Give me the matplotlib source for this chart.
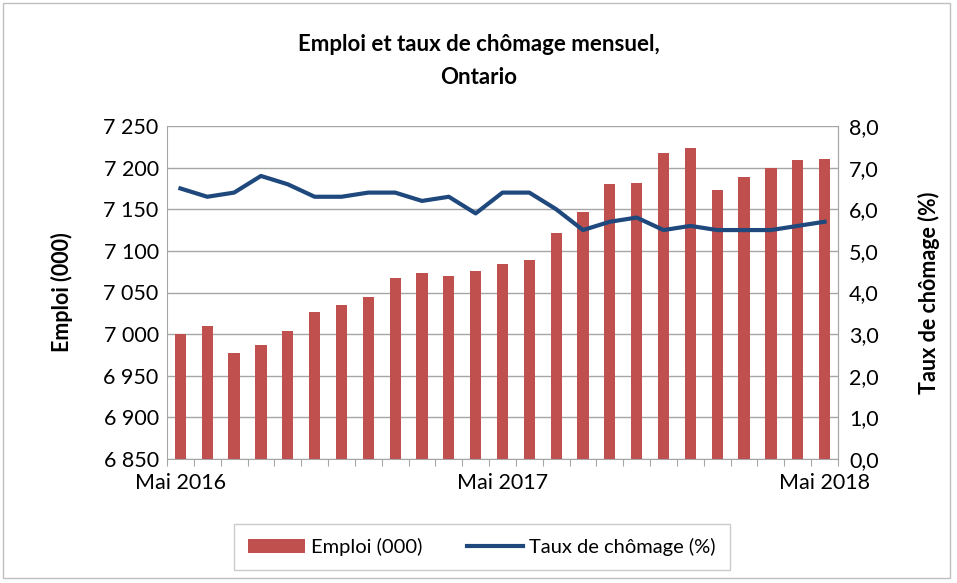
import numpy as np
import matplotlib.pyplot as plt
from matplotlib.patches import Rectangle
from matplotlib.ticker import FuncFormatter

plt.rcParams['font.family'] = ['Lato', 'DejaVu Sans']

months = ['Mai 2016', 'Juin 2016', 'Juil 2016', 'Août 2016', 'Sept 2016', 'Oct 2016',
          'Nov 2016', 'Déc 2016', 'Janv 2017', 'Févr 2017', 'Mars 2017', 'Avr 2017',
          'Mai 2017', 'Juin 2017', 'Juil 2017', 'Août 2017', 'Sept 2017', 'Oct 2017',
          'Nov 2017', 'Déc 2017', 'Janv 2018', 'Févr 2018', 'Mars 2018', 'Avr 2018',
          'Mai 2018']
emploi = [7000, 7010, 6977, 6987, 7004, 7027, 7035, 7044, 7068, 7074, 7070, 7076,
          7084, 7089, 7122, 7147, 7180, 7181, 7218, 7224, 7173, 7189, 7200, 7209, 7210]
chomage = [6.5, 6.3, 6.4, 6.8, 6.6, 6.3, 6.3, 6.4, 6.4, 6.2, 6.3, 5.9,
           6.4, 6.4, 6.0, 5.5, 5.7, 5.8, 5.5, 5.6, 5.5, 5.5, 5.5, 5.6, 5.7]
shown_labels = {0: 'Mai 2016', 12: 'Mai 2017', 24: 'Mai 2018'}

bar_color = '#C0504D'
line_color = '#1F497D'
grid_color = '#A6A6A6'

fig = plt.figure(figsize=(9.57, 5.83), dpi=100)
ax = fig.add_axes([167 / 957, 1 - 459 / 583, (838 - 167) / 957, (459 - 126) / 583])

x = np.arange(len(months))
ax.bar(x, emploi, width=0.42, color=bar_color, zorder=2, label='Emploi (000)')
ax.set_ylim(6850, 7250)
ax.set_yticks(np.arange(6850, 7251, 50))
ax.yaxis.set_major_formatter(FuncFormatter(lambda v, p: f'{int(v):,}'.replace(',', ' ')))
ax.set_xlim(-0.5, len(months) - 0.5)
ax.set_xticks(np.arange(-0.5, len(months), 1))
ax.set_xticklabels([])
ax.set_xticks(list(shown_labels.keys()), minor=True)
ax.set_xticklabels(list(shown_labels.values()), minor=True)
ax.tick_params(axis='x', which='major', length=5, color=grid_color)
ax.tick_params(axis='x', which='minor', length=0, labelsize=15.5, pad=10)
ax.tick_params(axis='y', length=0, labelsize=15.5, pad=6)
ax.grid(axis='y', color=grid_color, linewidth=1, zorder=0)
ax.set_axisbelow(True)
for s in ['left', 'bottom', 'right']:
    ax.spines[s].set_color(grid_color)
ax.spines['top'].set_visible(False)
ax.set_ylabel('Emploi (000)', fontsize=15.5, fontweight='bold', labelpad=22)

ax2 = ax.twinx()
ax2.plot(x, chomage, color=line_color, linewidth=3, label='Taux de chômage (%)', zorder=3)
ax2.set_ylim(0, 8)
ax2.set_yticks(np.arange(0, 8.1, 1))
ax2.yaxis.set_major_formatter(FuncFormatter(lambda v, p: f'{v:.1f}'.replace('.', ',')))
ax2.tick_params(axis='y', length=0, labelsize=15.5, pad=8)
for s in ['left', 'bottom', 'top']:
    ax2.spines[s].set_visible(False)
ax2.spines['right'].set_color(grid_color)
ax2.set_ylabel('Taux de chômage (%)', fontsize=15.5, fontweight='bold', labelpad=28)

fig.text(0.5, 1 - 61 / 583, 'Emploi et taux de chômage mensuel,\nOntario',
         ha='center', va='center', fontsize=16, fontweight='bold', linespacing=1.75)

h1, l1 = ax.get_legend_handles_labels()
h2, l2 = ax2.get_legend_handles_labels()
leg = fig.legend(h1 + h2, l1 + l2, loc='center', bbox_to_anchor=(482 / 957, 1 - 547 / 583),
                 ncol=2, fontsize=14.5, frameon=True, fancybox=False, edgecolor='#BFBFBF',
                 handlelength=2.8, handletextpad=0.3, columnspacing=2.2, borderpad=0.7)

fig.patches.append(Rectangle((3 / 957, 5 / 583), 947 / 957, 575 / 583, transform=fig.transFigure,
                             fill=False, edgecolor='#BFBFBF', linewidth=1))

fig.savefig('out.png', dpi=100)
